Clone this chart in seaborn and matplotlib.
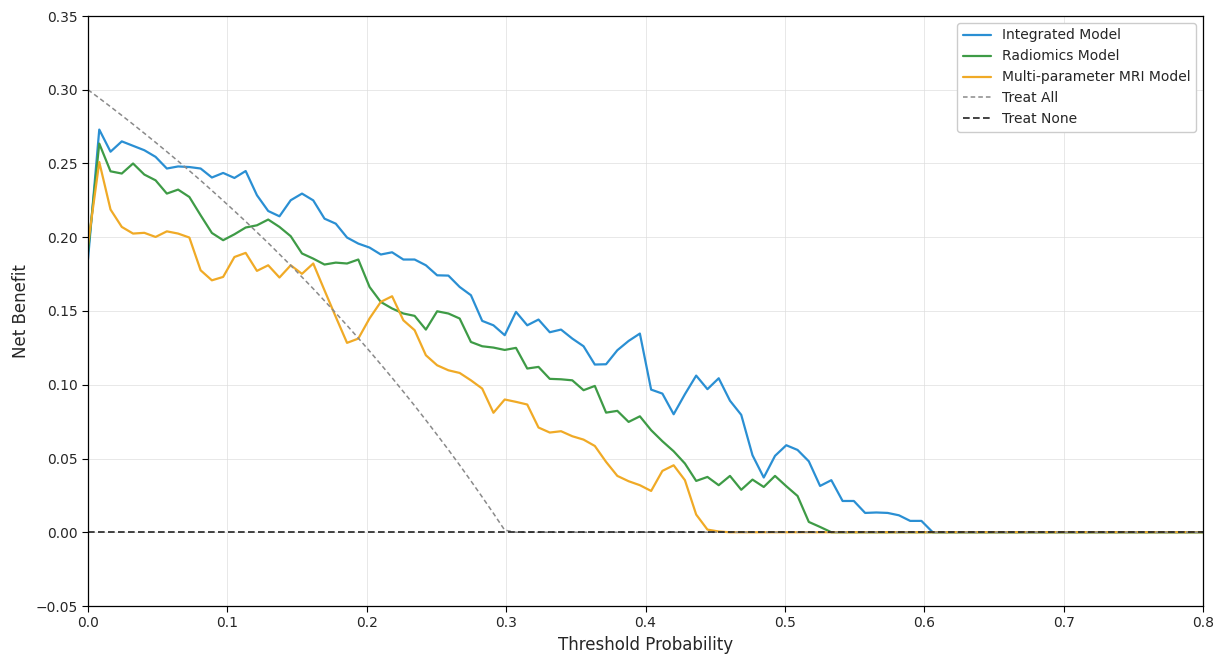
import numpy as np
import pandas as pd
import matplotlib
matplotlib.use("Agg")
import matplotlib.pyplot as plt
import matplotlib.ticker as mticker
import seaborn as sns

thresholds = np.linspace(0.0, 0.8, 100)

integrated = [0.185, 0.273, 0.258, 0.265, 0.262, 0.259, 0.2545, 0.2466, 0.248, 0.2476,
              0.2466, 0.2405, 0.2436, 0.2402, 0.2449, 0.2285, 0.2178, 0.2142, 0.2251, 0.2296,
              0.225, 0.2126, 0.2092, 0.1998, 0.1957, 0.193, 0.1883, 0.1898, 0.1849, 0.1849,
              0.181, 0.1742, 0.174, 0.1663, 0.1607, 0.1433, 0.1403, 0.1336, 0.1494, 0.1403,
              0.1442, 0.1356, 0.1374, 0.1313, 0.1261, 0.1137, 0.1139, 0.1234, 0.1297, 0.1347,
              0.0967, 0.094, 0.080, 0.0936, 0.1062, 0.0970, 0.1044, 0.0892, 0.0796, 0.0522,
              0.0371, 0.0518, 0.059, 0.0558, 0.0481, 0.0314, 0.0353, 0.0212, 0.0212, 0.0131,
              0.0134, 0.0131, 0.0115, 0.0077, 0.0077, 0.0] + [0.0] * 24

radiomics = [0.19, 0.2635, 0.2447, 0.2432, 0.250, 0.2425, 0.2386, 0.2296, 0.2323, 0.2273,
             0.2149, 0.2029, 0.198, 0.202, 0.2066, 0.2081, 0.212, 0.207, 0.2007, 0.189,
             0.1855, 0.1815, 0.1828, 0.1822, 0.1849, 0.1663, 0.1561, 0.1517, 0.1483, 0.1467,
             0.1374, 0.1498, 0.1483, 0.1449, 0.129, 0.1261, 0.1252, 0.1236, 0.125, 0.111,
             0.1121, 0.1040, 0.1037, 0.103, 0.0963, 0.0992, 0.0811, 0.0823, 0.0748, 0.0786,
             0.0692, 0.0617, 0.0549, 0.0466, 0.0348, 0.0375, 0.0319, 0.0382, 0.0288, 0.0357,
             0.0307, 0.0382, 0.0312, 0.0246, 0.007, 0.0036, 0.0] + [0.0] * 33

mri = [0.195, 0.251, 0.2188, 0.207, 0.2025, 0.203, 0.2002, 0.2040, 0.2025, 0.1998,
       0.1776, 0.1708, 0.1731, 0.1866, 0.1894, 0.1772, 0.181, 0.1727, 0.181, 0.1752,
       0.1822, 0.164, 0.146, 0.1284, 0.1313, 0.145, 0.1562, 0.160, 0.1437, 0.137,
       0.120, 0.1132, 0.1098, 0.108, 0.103, 0.0974, 0.081, 0.090, 0.0884, 0.0866,
       0.071, 0.0676, 0.0685, 0.0651, 0.0628, 0.0585, 0.0477, 0.0382, 0.0346, 0.0319,
       0.028, 0.0416, 0.0454, 0.0353, 0.012, 0.0018, 0.0005] + [0.0] * 43

treat_all = [0.300, 0.2943, 0.2885, 0.2826, 0.2766, 0.2705, 0.2643, 0.2580, 0.2516, 0.2451,
             0.2385, 0.2317, 0.2248, 0.2178, 0.2107, 0.2034, 0.1961, 0.1885, 0.1809, 0.1730,
             0.1651, 0.1569, 0.1486, 0.1402, 0.1316, 0.1228, 0.1138, 0.1047, 0.0953, 0.0858,
             0.0760, 0.0660, 0.0559, 0.0455, 0.0348, 0.0239, 0.0128, 0.0014] + [0.0] * 62

treat_none = [0.0] * 100

series_names = ["Integrated Model", "Radiomics Model", "Multi-parameter MRI Model"]
series_colors = ["#2A8FD3", "#3E9B46", "#F0AA26"]

sns.set_theme(style="white")
plt.rcParams['font.family'] = ['DejaVu Sans']
plt.rcParams['axes.unicode_minus'] = True

fig = plt.figure(figsize=(12.2, 6.54), dpi=100)
ax = fig.add_axes([88 / 1220, 1 - 606 / 654, (1203 - 88) / 1220, (606 - 16) / 654])

for name, vals, col in zip(series_names, [integrated, radiomics, mri], series_colors):
    sns.lineplot(x=thresholds, y=vals, ax=ax, color=col, linewidth=1.6, label=name)

sns.lineplot(x=thresholds, y=treat_all, ax=ax, color="#8a8a8a", linewidth=1.1,
             linestyle=(0, (3, 2)), label="Treat All")
sns.lineplot(x=thresholds, y=treat_none, ax=ax, color="#222222", linewidth=1.2,
             linestyle=(0, (4, 2)), label="Treat None")

ax.set_xlim(0, 0.8)
ax.set_ylim(-0.05, 0.35)
ax.set_xticks(np.arange(0, 0.81, 0.1))
ax.set_yticks(np.arange(-0.05, 0.351, 0.05))
ax.xaxis.set_major_formatter(mticker.FuncFormatter(lambda v, p: f"{v:.1f}".replace("-", "\u2212")))
ax.yaxis.set_major_formatter(mticker.FuncFormatter(
    lambda v, p: (f"{v:.2f}" if abs(v) > 1e-9 else "0.00").replace("-", "\u2212")))
ax.tick_params(axis='both', which='major', labelsize=10, length=4, width=0.8,
               direction='out', bottom=True, left=True, color='black')
ax.grid(True, color='#dddddd', linewidth=0.6, alpha=0.8)
for sp in ax.spines.values():
    sp.set_color('black')
    sp.set_linewidth(0.9)

ax.set_xlabel("Threshold Probability", fontsize=12)
ax.set_ylabel("Net Benefit", fontsize=12)

leg = ax.legend(loc="upper right", fontsize=10, frameon=True, framealpha=1.0,
                edgecolor='#cccccc', fancybox=True)

fig.savefig("out.png", dpi=100)
